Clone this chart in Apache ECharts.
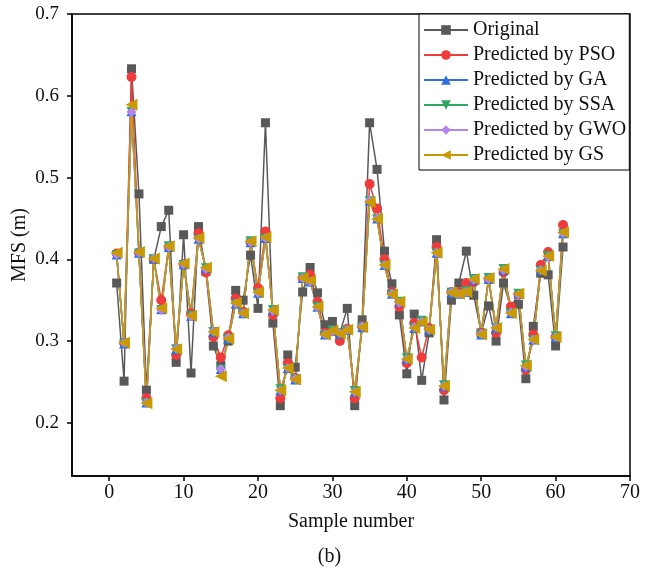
<!DOCTYPE html>
<html>
<head>
<meta charset="utf-8">
<script src="https://cdn.jsdelivr.net/npm/echarts@6/dist/echarts.min.js"></script>
<style>
html,body{margin:0;padding:0;background:#fff;}
#chart{width:659px;height:575px;}
</style>
</head>
<body>
<div id="chart"></div>
<script>
const samples = [];
for (let i = 1; i <= 61; i++) samples.push(i);

const xTicks = [0, 10, 20, 30, 40, 50, 60, 70];
const yTicks = [0.2, 0.3, 0.4, 0.5, 0.6, 0.7];

const original = [0.371,0.251,0.633,0.480,0.240,0.400,0.440,0.460,0.274,0.430,
  0.261,0.440,0.385,0.294,0.270,0.300,0.362,0.350,0.405,0.340,
  0.567,0.322,0.221,0.283,0.268,0.360,0.390,0.359,0.320,0.324,
  0.310,0.340,0.221,0.326,0.567,0.510,0.410,0.370,0.332,0.260,
  0.333,0.252,0.310,0.424,0.228,0.350,0.371,0.410,0.356,0.310,
  0.343,0.300,0.371,0.340,0.345,0.254,0.318,0.383,0.381,0.294,0.415];

const pso = [0.407,0.298,0.623,0.408,0.230,0.400,0.350,0.415,0.283,0.394,
  0.334,0.432,0.384,0.305,0.280,0.307,0.352,0.336,0.421,0.365,
  0.434,0.332,0.230,0.273,0.255,0.377,0.381,0.348,0.310,0.312,
  0.300,0.315,0.230,0.318,0.492,0.462,0.400,0.360,0.342,0.273,
  0.322,0.280,0.316,0.415,0.240,0.360,0.360,0.371,0.372,0.310,
  0.376,0.310,0.384,0.342,0.357,0.265,0.308,0.393,0.409,0.305,0.442];

const ga = [0.406,0.297,0.581,0.408,0.225,0.401,0.339,0.415,0.290,0.394,
  0.331,0.425,0.389,0.311,0.266,0.303,0.346,0.334,0.421,0.359,
  0.426,0.338,0.240,0.267,0.253,0.377,0.373,0.342,0.308,0.313,
  0.309,0.314,0.238,0.317,0.472,0.450,0.393,0.358,0.348,0.278,
  0.316,0.324,0.314,0.408,0.245,0.359,0.358,0.360,0.375,0.308,
  0.376,0.316,0.387,0.334,0.358,0.269,0.302,0.387,0.404,0.305,0.432];

const ssa = [0.405,0.297,0.580,0.407,0.224,0.400,0.338,0.416,0.290,0.393,
  0.331,0.424,0.389,0.311,0.265,0.303,0.345,0.333,0.422,0.358,
  0.425,0.338,0.241,0.266,0.253,0.378,0.372,0.342,0.307,0.313,
  0.309,0.313,0.239,0.317,0.471,0.449,0.392,0.357,0.348,0.279,
  0.316,0.325,0.313,0.407,0.246,0.359,0.357,0.361,0.376,0.308,
  0.377,0.316,0.388,0.334,0.358,0.270,0.301,0.386,0.404,0.306,0.431];

const gwo = [0.406,0.298,0.580,0.408,0.225,0.401,0.338,0.415,0.291,0.394,
  0.330,0.425,0.388,0.312,0.266,0.304,0.346,0.334,0.421,0.359,
  0.426,0.337,0.240,0.267,0.254,0.377,0.373,0.341,0.308,0.312,
  0.310,0.314,0.238,0.318,0.472,0.450,0.393,0.358,0.347,0.278,
  0.317,0.324,0.314,0.408,0.245,0.360,0.358,0.360,0.375,0.309,
  0.376,0.317,0.387,0.335,0.357,0.269,0.302,0.387,0.403,0.305,0.432];

const gs = [0.408,0.298,0.589,0.409,0.224,0.401,0.340,0.416,0.290,0.395,
  0.331,0.426,0.390,0.311,0.257,0.303,0.347,0.334,0.422,0.360,
  0.427,0.338,0.240,0.267,0.253,0.377,0.374,0.342,0.308,0.313,
  0.309,0.314,0.238,0.317,0.470,0.449,0.393,0.357,0.348,0.278,
  0.316,0.323,0.314,0.408,0.245,0.359,0.358,0.360,0.376,0.308,
  0.377,0.316,0.388,0.334,0.358,0.270,0.302,0.386,0.404,0.305,0.433];

const seriesDefs = [
  {name: 'Original', data: original, color: '#595959', symbol: 'rect', size: 9, rotate: 0},
  {name: 'Predicted by PSO', data: pso, color: '#ee3b3b', symbol: 'circle', size: 10, rotate: 0},
  {name: 'Predicted by GA', data: ga, color: '#2f6fe0', symbol: 'triangle', size: 10, rotate: 0},
  {name: 'Predicted by SSA', data: ssa, color: '#2ea862', symbol: 'triangle', size: 10, rotate: 180},
  {name: 'Predicted by GWO', data: gwo, color: '#b586ea', symbol: 'diamond', size: 10, rotate: 0},
  {name: 'Predicted by GS', data: gs, color: '#c99a06', symbol: 'triangle', size: 12, rotate: 90}
];

const FONT = '"Liberation Serif", "Times New Roman", serif';

const chart = echarts.init(document.getElementById('chart'), null, {renderer: 'canvas'});

chart.setOption({
  animation: false,
  backgroundColor: '#fff',
  grid: {left: 72, right: 29, top: 14, bottom: 99, outerBoundsMode: 'none', containLabel: false,
    show: true, borderColor: '#000', borderWidth: 1.5, backgroundColor: 'transparent'},
  legend: {
    orient: 'vertical',
    left: 419, top: 14,
    padding: [6, 3, 5, 4],
    itemGap: 5,
    itemWidth: 44, itemHeight: 12,
    backgroundColor: '#fff',
    borderColor: '#000', borderWidth: 1,
    textStyle: {fontFamily: FONT, fontSize: 20, color: '#111'},
    data: seriesDefs.map(s => s.name)
  },
  xAxis: {
    type: 'value', min: -5, max: 70,
    name: 'Sample number', nameLocation: 'middle', nameGap: 36,
    nameTextStyle: {fontFamily: FONT, fontSize: 20, color: '#111'},
    axisLine: {onZero: false, lineStyle: {color: '#000', width: 1.5}},
    axisTick: {show: true, inside: false, length: 5, lineStyle: {color: '#000', width: 1.5}, customValues: xTicks},
    axisLabel: {fontFamily: FONT, fontSize: 20, color: '#111', margin: 7, customValues: xTicks},
    splitLine: {show: false}
  },
  yAxis: {
    type: 'value', min: 0.135, max: 0.7,
    name: 'MFS (m)', nameLocation: 'middle', nameGap: 42, nameRotate: 90, nameMoveOverlap: false,
    nameTextStyle: {fontFamily: FONT, fontSize: 20, color: '#111'},
    axisLine: {onZero: false, lineStyle: {color: '#000', width: 1.5}},
    axisTick: {show: true, inside: false, length: 5, lineStyle: {color: '#000', width: 1.5}, customValues: yTicks},
    axisLabel: {fontFamily: FONT, fontSize: 19, color: '#111', margin: 13, customValues: yTicks,
      formatter: v => v.toFixed(1)},
    splitLine: {show: false}
  },
  graphic: [{
    type: 'text', left: 'center', top: 547,
    style: {text: '(b)', font: '20px ' + FONT, fill: '#111'}
  }],
  series: seriesDefs.map(s => ({
    name: s.name,
    type: 'line',
    data: samples.map((x, i) => [x, s.data[i]]),
    symbol: s.symbol,
    symbolSize: s.size,
    symbolRotate: s.rotate,
    showAllSymbol: true,
    lineStyle: {color: s.color, width: 1.5},
    itemStyle: {color: s.color},
    emphasis: {disabled: true}
  }))
});
</script>
</body>
</html>
